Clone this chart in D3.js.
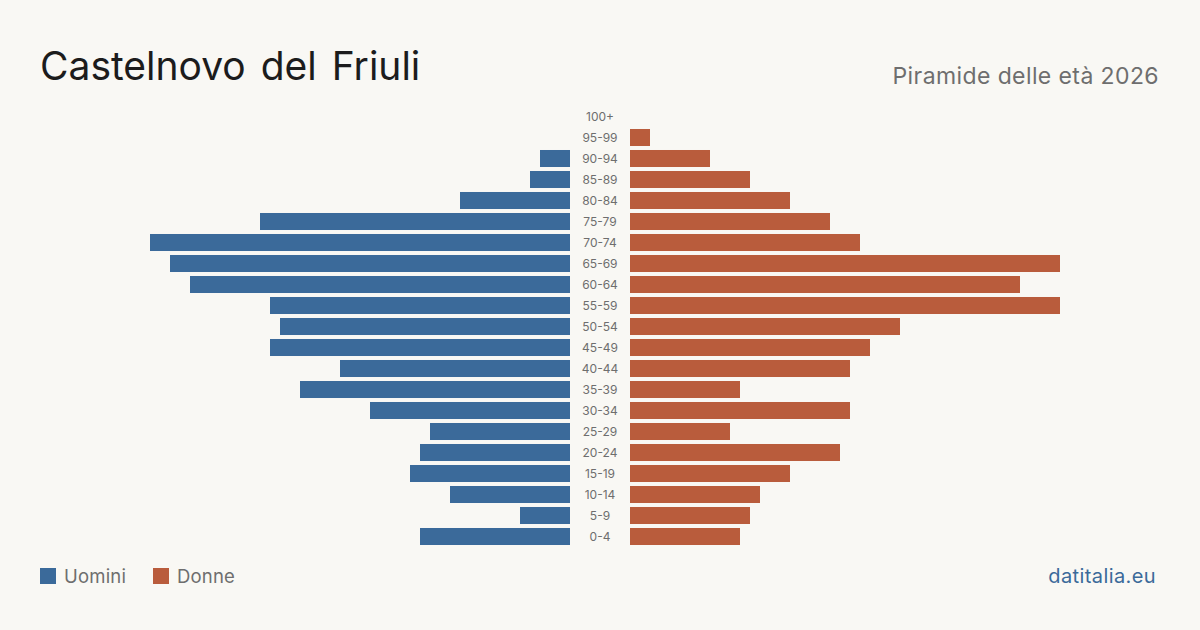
<!DOCTYPE html>
<html>
<head>
<meta charset="utf-8">
<script src="https://cdn.jsdelivr.net/npm/d3@7"></script>
<style>
  body { margin: 0; background: #f9f8f4; }
  text { font-family: Inter, "Noto Sans", sans-serif; }
</style>
</head>
<body>
<div id="chart"></div>
<script>
// age classes, top to bottom
var ageGroups = ["100+", "95-99", "90-94", "85-89", "80-84", "75-79", "70-74", "65-69", "60-64",
  "55-59", "50-54", "45-49", "40-44", "35-39", "30-34", "25-29", "20-24", "15-19", "10-14", "5-9", "0-4"];
var maschi = [0, 0, 3, 4, 11, 31, 42, 40, 38, 30, 29, 30, 23, 27, 20, 14, 15, 16, 12, 5, 15];
var femmine = [0, 2, 8, 12, 16, 20, 23, 43, 39, 43, 27, 24, 22, 11, 22, 10, 21, 16, 13, 12, 11];
var legendLabels = ["Uomini", "Donne"];

var svgWidth = 1200;
var svgHeight = 630;
var blu = "#3b6a9a";
var rosso = "#b95c3c";

var svg = d3.select("#chart")
  .append("svg")
  .attr("width", svgWidth)
  .attr("height", svgHeight);

svg.append("rect")
  .attr("width", svgWidth)
  .attr("height", svgHeight)
  .attr("fill", "#f9f8f4");

// titles
svg.append("text")
  .attr("x", 40)
  .attr("y", 80)
  .style("font-size", "39px")
  .style("fill", "#1c1c1c")
  .style("word-spacing", "4px")
  .text("Castelnovo del Friuli");

svg.append("text")
  .attr("x", 1159)
  .attr("y", 84)
  .attr("text-anchor", "end")
  .style("font-size", "23px")
  .style("letter-spacing", "0.4px")
  .style("fill", "#6e6e6e")
  .text("Piramide delle età 2026");

var maxVal = d3.max(maschi.concat(femmine));

var yScale = d3.scaleBand()
  .domain(ageGroups)
  .range([106, 106 + 21 * ageGroups.length])
  .paddingInner(0.19)
  .paddingOuter(0.095);

var xLeft = d3.scaleLinear().domain([0, maxVal]).range([570, 570 - maxVal * 10]);
var xRight = d3.scaleLinear().domain([0, maxVal]).range([630, 630 + maxVal * 10]);

var rows = ageGroups.map(function (g, i) {
  return { age: g, m: maschi[i], f: femmine[i] };
});

// male bars
svg.append("g").selectAll("rect")
  .data(rows.filter(d => d.m > 0))
  .enter()
  .append("rect")
  .attr("x", d => xLeft(d.m))
  .attr("y", d => yScale(d.age))
  .attr("width", d => xLeft(0) - xLeft(d.m))
  .attr("height", yScale.bandwidth())
  .attr("fill", blu);

// female bars
svg.append("g").selectAll("rect")
  .data(rows.filter(d => d.f > 0))
  .enter()
  .append("rect")
  .attr("x", xRight(0))
  .attr("y", d => yScale(d.age))
  .attr("width", d => xRight(d.f) - xRight(0))
  .attr("height", yScale.bandwidth())
  .attr("fill", rosso);

// age labels in the middle
svg.append("g").selectAll("text")
  .data(ageGroups)
  .enter()
  .append("text")
  .attr("x", 600)
  .attr("y", d => yScale(d) + yScale.bandwidth() / 2)
  .attr("dy", "0.35em")
  .attr("text-anchor", "middle")
  .style("font-size", "12px")
  .style("fill", "#6e6e6e")
  .text(d => d);

// legend
var legend = svg.append("g");
var legendX = [40, 153];
legendLabels.forEach(function (l, i) {
  legend.append("rect")
    .attr("x", legendX[i])
    .attr("y", 568)
    .attr("width", 16)
    .attr("height", 16)
    .attr("fill", i === 0 ? blu : rosso);
  legend.append("text")
    .attr("x", legendX[i] + 24)
    .attr("y", 583)
    .style("font-size", "18.5px")
    .style("letter-spacing", "0.2px")
    .style("fill", "#6e6e6e")
    .text(l);
});

svg.append("text")
  .attr("x", 1156)
  .attr("y", 583)
  .attr("text-anchor", "end")
  .style("font-size", "20px")
  .style("letter-spacing", "0.4px")
  .style("fill", blu)
  .text("datitalia.eu");
</script>
</body>
</html>
